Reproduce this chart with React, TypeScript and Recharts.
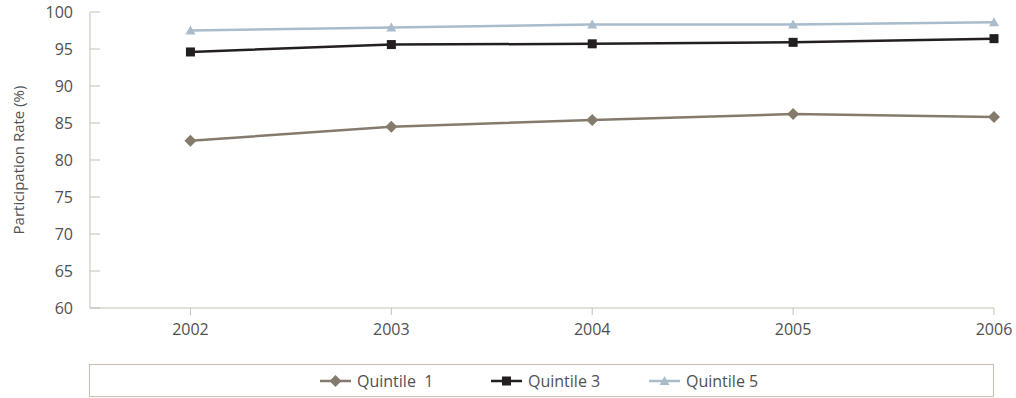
import React from 'react';
import { LineChart, Line, XAxis, YAxis, Label } from 'recharts';

const years = [2002, 2003, 2004, 2005, 2006];
const quintile1 = [82.6, 84.5, 85.4, 86.2, 85.8];
const quintile3 = [94.6, 95.6, 95.7, 95.9, 96.4];
const quintile5 = [97.5, 97.9, 98.3, 98.3, 98.6];
const yTicks = [60, 65, 70, 75, 80, 85, 90, 95, 100];

const data = years.map((year, i) => ({
    year,
    q1: quintile1[i],
    q3: quintile3[i],
    q5: quintile5[i],
}));

const AXIS = '#c6beb2';
const TEXT = '#505052';
const FONT = '"Open Sans", sans-serif';
const C1 = '#857b6c';
const C3 = '#231f20';
const C5 = '#a8bccb';

// ticks point into the plot area, labels sit outside
const YTick = (props: any) => {
    const { x, y, payload } = props;
    return (
        <g>
            <line x1={x + 17} x2={x + 27} y1={y} y2={y} stroke={AXIS} strokeWidth={1} />
            <text x={x} y={y} dy={5.5} textAnchor="end" fill={TEXT} fontSize={16} fontFamily={FONT}>
                {payload.value}
            </text>
        </g>
    );
};

const XTick = (props: any) => {
    const { x, y, payload } = props;
    return (
        <g>
            <line x1={x} x2={x} y1={y - 14} y2={y - 7} stroke={AXIS} strokeWidth={1} />
            <text x={x} y={y} dy={13} textAnchor="middle" fill={TEXT} fontSize={16} fontFamily={FONT}>
                {payload.value}
            </text>
        </g>
    );
};

const Diamond = ({ cx, cy, color }: any) => (
    <path d={`M${cx},${cy - 6} L${cx + 6},${cy} L${cx},${cy + 6} L${cx - 6},${cy} Z`} fill={color} />
);
const Square = ({ cx, cy, color }: any) => (
    <rect x={cx - 4.5} y={cy - 4.5} width={9} height={9} fill={color} />
);
const Triangle = ({ cx, cy, color }: any) => (
    <path d={`M${cx},${cy - 5} L${cx + 5},${cy + 4} L${cx - 5},${cy + 4} Z`} fill={color} />
);

const legendItems = [
    { label: 'Quintile  1', color: C1, shape: 'diamond', left: 230 },
    { label: 'Quintile 3', color: C3, shape: 'square', left: 401 },
    { label: 'Quintile 5', color: C5, shape: 'triangle', left: 559 },
];

const LegendIcon = ({ shape, color }: { shape: string; color: string }) => (
    <svg width={31} height={12} style={{ display: 'block' }}>
        <line x1={0} x2={31} y1={6} y2={6} stroke={color} strokeWidth={2.5} />
        {shape === 'diamond' && <Diamond cx={15.5} cy={6} color={color} />}
        {shape === 'square' && <Square cx={15.5} cy={6} color={color} />}
        {shape === 'triangle' && <Triangle cx={15.5} cy={6} color={color} />}
    </svg>
);

export default function App() {
    return (
        <div style={{ position: 'relative', width: 1016, height: 398 }}>
            <style>{'body { margin: 0; overflow: hidden; }'}</style>
            <LineChart width={1016} height={348} data={data} margin={{ top: 12, right: 22, left: 8, bottom: 10 }}>
                <XAxis
                    dataKey="year"
                    type="number"
                    domain={[2001.5, 2006]}
                    ticks={years}
                    height={30}
                    stroke={AXIS}
                    tickSize={0}
                    tickMargin={14}
                    tick={<XTick />}
                />
                <YAxis
                    domain={[60, 100]}
                    ticks={yTicks}
                    width={82}
                    stroke={AXIS}
                    tickSize={0}
                    tickMargin={17}
                    tick={<YTick />}
                >
                    <Label
                        content={(props: any) => {
                            const vb = props.viewBox;
                            const cx = 18;
                            const cy = vb.y + vb.height / 2;
                            return (
                                <text
                                    x={cx}
                                    y={cy}
                                    transform={`rotate(-90, ${cx}, ${cy})`}
                                    textAnchor="middle"
                                    dominantBaseline="central"
                                    fill={TEXT}
                                    fontSize={15}
                                    fontFamily={FONT}
                                >
                                    Participation Rate (%)
                                </text>
                            );
                        }}
                    />
                </YAxis>
                <Line
                    dataKey="q1"
                    stroke={C1}
                    strokeWidth={2.5}
                    isAnimationActive={false}
                    dot={(p: any) => <Diamond key={p.index} cx={p.cx} cy={p.cy} color={C1} />}
                />
                <Line
                    dataKey="q3"
                    stroke={C3}
                    strokeWidth={2.5}
                    isAnimationActive={false}
                    dot={(p: any) => <Square key={p.index} cx={p.cx} cy={p.cy} color={C3} />}
                />
                <Line
                    dataKey="q5"
                    stroke={C5}
                    strokeWidth={2.5}
                    isAnimationActive={false}
                    dot={(p: any) => <Triangle key={p.index} cx={p.cx} cy={p.cy} color={C5} />}
                />
            </LineChart>
            <div
                style={{
                    position: 'absolute',
                    left: 89,
                    top: 364,
                    width: 903,
                    height: 31,
                    border: `1px solid ${AXIS}`,
                    fontFamily: FONT,
                    fontSize: 16,
                    color: TEXT,
                }}
            >
                {legendItems.map((item) => (
                    <div
                        key={item.label}
                        style={{ position: 'absolute', left: item.left, top: 0, height: 31, display: 'flex', alignItems: 'center' }}
                    >
                        <LegendIcon shape={item.shape} color={item.color} />
                        <span style={{ marginLeft: 6, whiteSpace: 'pre' }}>{item.label}</span>
                    </div>
                ))}
            </div>
        </div>
    );
}
